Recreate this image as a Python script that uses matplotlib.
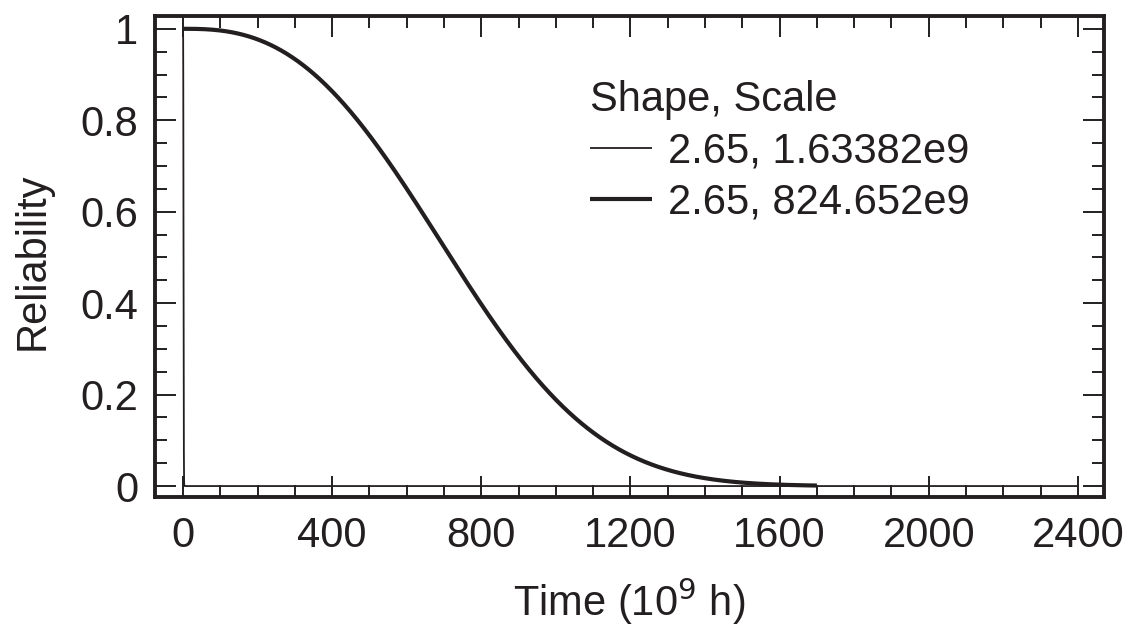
import numpy as np
import matplotlib
matplotlib.use("Agg")
import matplotlib.pyplot as plt
from matplotlib.ticker import MultipleLocator

plt.rcParams['font.family'] = ['Liberation Sans', 'DejaVu Sans']

# Weibull reliability curves: shape and scale (scale in units of 10^9 h)
shapes = [2.65, 2.65]
scales = [1.63382, 824.652]
labels = ["2.65, 1.63382e9", "2.65, 824.652e9"]
t_end = [2400, 1700]          # last time plotted for each curve (10^9 h)
widths = [1.3, 3.0]

x_ticks = [0, 400, 800, 1200, 1600, 2000, 2400]
y_ticks = [0, 0.2, 0.4, 0.6, 0.8, 1]
y_tick_labels = ["0", "0.2", "0.4", "0.6", "0.8", "1"]

ink = "#231f20"
fs = 30

fig = plt.figure(figsize=(11.3, 6.27), dpi=100)
ax = fig.add_axes([0.1372, 0.2073, 0.8398, 0.7672])

for k, c, te, lw, lab in zip(shapes, scales, t_end, widths, labels):
    t = np.linspace(0, te, 40001)
    r = np.exp(-(t / c) ** k)
    ax.plot(t, r, color=ink, lw=lw, label=lab, solid_capstyle="butt")

ax.set_xlim(-75, 2470)
ax.set_ylim(-0.024, 1.028)
ax.set_xticks(x_ticks)
ax.set_yticks(y_ticks)
ax.set_yticklabels(y_tick_labels)
ax.xaxis.set_minor_locator(MultipleLocator(100))
ax.yaxis.set_minor_locator(MultipleLocator(0.05))

ax.tick_params(which="both", direction="in", top=True, right=True,
               color=ink, width=1.4, labelcolor=ink, labelsize=fs)
ax.tick_params(which="major", length=15)
ax.tick_params(axis="x", which="major", pad=14)
ax.tick_params(axis="y", which="major", pad=12)
ax.tick_params(which="minor", length=8.5)
for s in ax.spines.values():
    s.set_linewidth(2.8)
    s.set_color(ink)

ax.set_xlabel("Time (10$^{9}$ h)", fontsize=fs, color=ink)
ax.set_ylabel("Reliability", fontsize=fs, color=ink)
ax.xaxis.set_label_coords(0.5, -0.164)
ax.yaxis.set_label_coords(-0.108, 0.49)

leg = ax.legend(title="Shape, Scale", loc="upper left",
                bbox_to_anchor=(0.4584, 0.867), frameon=False,
                fontsize=fs, title_fontsize=fs, borderpad=0,
                borderaxespad=0, handlelength=1.49, handletextpad=0.38,
                labelspacing=0.27)
leg._legend_box.align = "left"
for txt in leg.get_texts():
    txt.set_color(ink)
leg.get_title().set_color(ink)

fig.savefig("out.png", dpi=100)
